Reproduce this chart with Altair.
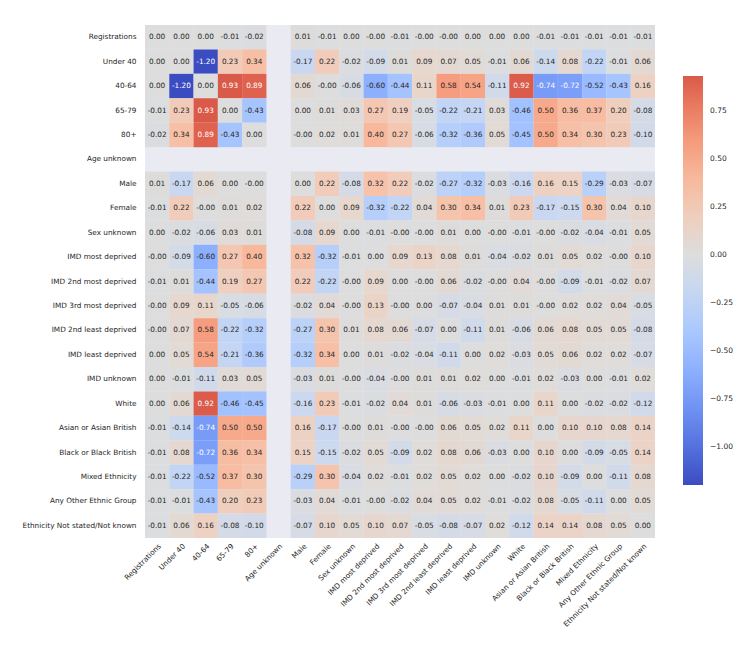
import altair as alt
import pandas as pd

# Variable names, in matrix order (rows top-to-bottom, columns left-to-right)
labels = [
    "Registrations", "Under 40", "40-64", "65-79", "80+", "Age unknown",
    "Male", "Female", "Sex unknown",
    "IMD most deprived", "IMD 2nd most deprived", "IMD 3rd most deprived",
    "IMD 2nd least deprived", "IMD least deprived", "IMD unknown",
    "White", "Asian or Asian British", "Black or Black British",
    "Mixed Ethnicity", "Any Other Ethnic Group", "Ethnicity Not stated/Not known",
]

N = None  # no value (Age unknown is constant)

corr_rows = [
    [0.00, 0.00, 0.00, -0.01, -0.02, N, 0.01, -0.01, 0.00, -0.00, -0.01, -0.00, -0.00, 0.00, 0.00, 0.00, -0.01, -0.01, -0.01, -0.01, -0.01],
    [0.00, 0.00, -1.20, 0.23, 0.34, N, -0.17, 0.22, -0.02, -0.09, 0.01, 0.09, 0.07, 0.05, -0.01, 0.06, -0.14, 0.08, -0.22, -0.01, 0.06],
    [0.00, -1.20, 0.00, 0.93, 0.89, N, 0.06, -0.00, -0.06, -0.60, -0.44, 0.11, 0.58, 0.54, -0.11, 0.92, -0.74, -0.72, -0.52, -0.43, 0.16],
    [-0.01, 0.23, 0.93, 0.00, -0.43, N, 0.00, 0.01, 0.03, 0.27, 0.19, -0.05, -0.22, -0.21, 0.03, -0.46, 0.50, 0.36, 0.37, 0.20, -0.08],
    [-0.02, 0.34, 0.89, -0.43, 0.00, N, -0.00, 0.02, 0.01, 0.40, 0.27, -0.06, -0.32, -0.36, 0.05, -0.45, 0.50, 0.34, 0.30, 0.23, -0.10],
    [N] * 21,
    [0.01, -0.17, 0.06, 0.00, -0.00, N, 0.00, 0.22, -0.08, 0.32, 0.22, -0.02, -0.27, -0.32, -0.03, -0.16, 0.16, 0.15, -0.29, -0.03, -0.07],
    [-0.01, 0.22, -0.00, 0.01, 0.02, N, 0.22, 0.00, 0.09, -0.32, -0.22, 0.04, 0.30, 0.34, 0.01, 0.23, -0.17, -0.15, 0.30, 0.04, 0.10],
    [0.00, -0.02, -0.06, 0.03, 0.01, N, -0.08, 0.09, 0.00, -0.01, -0.00, -0.00, 0.01, 0.00, -0.00, -0.01, -0.00, -0.02, -0.04, -0.01, 0.05],
    [-0.00, -0.09, -0.60, 0.27, 0.40, N, 0.32, -0.32, -0.01, 0.00, 0.09, 0.13, 0.08, 0.01, -0.04, -0.02, 0.01, 0.05, 0.02, -0.00, 0.10],
    [-0.01, 0.01, -0.44, 0.19, 0.27, N, 0.22, -0.22, -0.00, 0.09, 0.00, -0.00, 0.06, -0.02, -0.00, 0.04, -0.00, -0.09, -0.01, -0.02, 0.07],
    [-0.00, 0.09, 0.11, -0.05, -0.06, N, -0.02, 0.04, -0.00, 0.13, -0.00, 0.00, -0.07, -0.04, 0.01, 0.01, -0.00, 0.02, 0.02, 0.04, -0.05],
    [-0.00, 0.07, 0.58, -0.22, -0.32, N, -0.27, 0.30, 0.01, 0.08, 0.06, -0.07, 0.00, -0.11, 0.01, -0.06, 0.06, 0.08, 0.05, 0.05, -0.08],
    [0.00, 0.05, 0.54, -0.21, -0.36, N, -0.32, 0.34, 0.00, 0.01, -0.02, -0.04, -0.11, 0.00, 0.02, -0.03, 0.05, 0.06, 0.02, 0.02, -0.07],
    [0.00, -0.01, -0.11, 0.03, 0.05, N, -0.03, 0.01, -0.00, -0.04, -0.00, 0.01, 0.01, 0.02, 0.00, -0.01, 0.02, -0.03, 0.00, -0.01, 0.02],
    [0.00, 0.06, 0.92, -0.46, -0.45, N, -0.16, 0.23, -0.01, -0.02, 0.04, 0.01, -0.06, -0.03, -0.01, 0.00, 0.11, 0.00, -0.02, -0.02, -0.12],
    [-0.01, -0.14, -0.74, 0.50, 0.50, N, 0.16, -0.17, -0.00, 0.01, -0.00, -0.00, 0.06, 0.05, 0.02, 0.11, 0.00, 0.10, 0.10, 0.08, 0.14],
    [-0.01, 0.08, -0.72, 0.36, 0.34, N, 0.15, -0.15, -0.02, 0.05, -0.09, 0.02, 0.08, 0.06, -0.03, 0.00, 0.10, 0.00, -0.09, -0.05, 0.14],
    [-0.01, -0.22, -0.52, 0.37, 0.30, N, -0.29, 0.30, -0.04, 0.02, -0.01, 0.02, 0.05, 0.02, 0.00, -0.02, 0.10, -0.09, 0.00, -0.11, 0.08],
    [-0.01, -0.01, -0.43, 0.20, 0.23, N, -0.03, 0.04, -0.01, -0.00, -0.02, 0.04, 0.05, 0.02, -0.01, -0.02, 0.08, -0.05, -0.11, 0.00, 0.05],
    [-0.01, 0.06, 0.16, -0.08, -0.10, N, -0.07, 0.10, 0.05, 0.10, 0.07, -0.05, -0.08, -0.07, 0.02, -0.12, 0.14, 0.14, 0.08, 0.05, 0.00],
]

records = []
for r, row in zip(labels, corr_rows):
    for c, v in zip(labels, row):
        if v is None:
            continue
        records.append({"row": r, "col": c, "value": v, "label": f"{v:.2f}"})
df = pd.DataFrame(records)

# Diverging "coolwarm" palette (Moreland), centred on zero over a symmetric range
coolwarm = [
    (0.0, (59, 76, 192)), (0.03125, (68, 90, 204)), (0.0625, (77, 104, 215)),
    (0.09375, (87, 117, 225)), (0.125, (98, 130, 234)), (0.15625, (108, 142, 241)),
    (0.1875, (119, 154, 247)), (0.21875, (130, 165, 251)), (0.25, (141, 176, 254)),
    (0.28125, (152, 185, 255)), (0.3125, (163, 194, 255)), (0.34375, (174, 201, 253)),
    (0.375, (184, 208, 249)), (0.40625, (194, 213, 244)), (0.4375, (204, 217, 238)),
    (0.46875, (213, 219, 230)), (0.5, (221, 221, 221)), (0.53125, (229, 216, 209)),
    (0.5625, (236, 211, 197)), (0.59375, (241, 204, 185)), (0.625, (245, 196, 173)),
    (0.65625, (247, 187, 160)), (0.6875, (247, 177, 148)), (0.71875, (247, 166, 135)),
    (0.75, (244, 154, 123)), (0.78125, (241, 141, 111)), (0.8125, (236, 127, 99)),
    (0.84375, (229, 112, 88)), (0.875, (222, 96, 77)), (0.90625, (213, 80, 66)),
    (0.9375, (203, 62, 56)), (0.96875, (192, 40, 47)), (1.0, (180, 4, 38)),
]

vmin = df["value"].min()
vmax = df["value"].max()
half = max(abs(vmin), abs(vmax))


def hexc(rgb):
    return "#%02x%02x%02x" % tuple(int(round(x)) for x in rgb)


def cmap_at(p):
    for (p0, c0), (p1, c1) in zip(coolwarm[:-1], coolwarm[1:]):
        if p0 <= p <= p1:
            f = (p - p0) / (p1 - p0)
            return tuple(a + (b - a) * f for a, b in zip(c0, c1))
    return coolwarm[-1][1]


dom, rng = [], []
for p, c in coolwarm:
    v = -half + 2 * half * p
    if vmin - 1e-9 <= v < vmax:
        dom.append(v)
        rng.append(hexc(c))
dom.append(vmax)
rng.append(hexc(cmap_at((vmax + half) / (2 * half))))

font = "DejaVu Sans"
ink = "#262626"

base = alt.Chart(df).encode(
    x=alt.X(
        "col:N",
        sort=labels,
        scale=alt.Scale(domain=labels, paddingInner=0, paddingOuter=0),
        axis=alt.Axis(title=None, labelAngle=-45, labelAlign="right",
                      labelBaseline="top", labelPadding=4),
    ),
    y=alt.Y(
        "row:N",
        sort=labels,
        scale=alt.Scale(domain=labels, paddingInner=0, paddingOuter=0),
        axis=alt.Axis(title=None, labelPadding=9),
    ),
)

cells = base.mark_rect().encode(
    color=alt.Color(
        "value:Q",
        scale=alt.Scale(domain=dom, range=rng, interpolate="rgb"),
        legend=alt.Legend(
            title=None,
            orient="none",
            direction="vertical",
            legendX=538,
            legendY=51,
            gradientLength=409,
            gradientThickness=20,
            gradientStrokeWidth=0,
            values=[-1.0, -0.75, -0.5, -0.25, 0.0, 0.25, 0.5, 0.75],
            format=".2f",
            labelFont=font,
            labelFontSize=7.5,
            labelColor=ink,
            labelOffset=7,
            labelOverlap=False,
        ),
    )
)

annotations = base.mark_text(font=font, fontSize=7.3).encode(
    text="label:N",
    color=alt.condition("abs(datum.value) >= 0.65", alt.value("white"), alt.value(ink)),
)

chart = (
    alt.layer(cells, annotations)
    .properties(
        width=510,
        height=513,
        autosize=alt.AutoSizeParams(type="none"),
        padding={"left": 145, "top": 25, "right": 95, "bottom": 120},
        background="white",
    )
    .configure_view(fill="#EAEAF2", strokeWidth=0)
    .configure_axis(
        domain=False, ticks=False, tickSize=0, grid=False,
        labelFont=font, labelFontSize=7.3, labelColor=ink,
    )
)

chart.save("out.html", embed_options={"renderer": "svg", "actions": False})
